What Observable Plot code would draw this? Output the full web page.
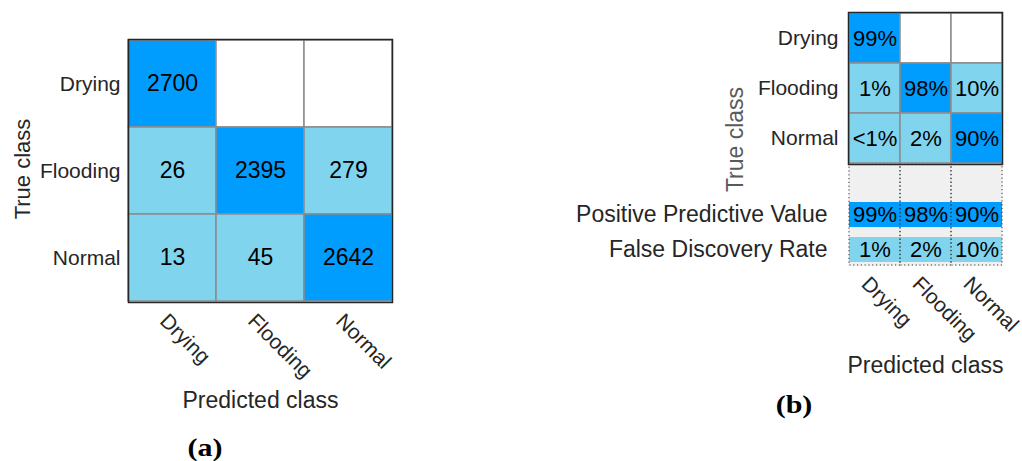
<!DOCTYPE html>
<html><head><meta charset="utf-8">
<script src="https://cdn.jsdelivr.net/npm/d3@7"></script>
<script src="https://cdn.jsdelivr.net/npm/@observablehq/plot@0.6"></script>
<style>
body{margin:0;background:#fff;}
#root{position:relative;width:1022px;height:461px;overflow:hidden;font-family:"Liberation Sans",Arial,sans-serif;}
#root svg{position:absolute;left:0;top:0;}
.tag{position:absolute;font-family:"Liberation Serif","Times New Roman",serif;font-weight:bold;font-size:25px;color:#000;transform:translate(-50%,-50%) scaleX(1.2);line-height:1;}
</style></head><body><div id="root"></div>
<script>
// ---- data ----
const classes = ["Drying", "Flooding", "Normal"];
const countsDrying = [2700, 0, 0];
const countsFlooding = [26, 2395, 279];
const countsNormal = [13, 45, 2642];
const pctDrying = ["99%", "", ""];
const pctFlooding = ["1%", "98%", "10%"];
const pctNormal = ["<1%", "2%", "90%"];
const summaryRows = ["Positive Predictive Value", "False Discovery Rate"];
const ppv = ["99%", "98%", "90%"];
const fdr = ["1%", "2%", "10%"];
const xLabel = "Predicted class";
const yLabel = "True class";

// ---- derived tables ----
const countRows = [countsDrying, countsFlooding, countsNormal];
const pctRows = [pctDrying, pctFlooding, pctNormal];
const cells = [];
countRows.forEach((row, i) => row.forEach((n, j) =>
  cells.push({truth: classes[i], pred: classes[j], n, pct: pctRows[i][j]})));
const summary = [];
[ppv, fdr].forEach((row, i) => row.forEach((v, j) =>
  summary.push({row: summaryRows[i], pred: classes[j], v, kind: i})));

const dark = "#009dff", light = "#80d4ee", ink = "#262626";
const fillOf = d => d.truth === d.pred ? dark : (d.n > 0 ? light : "#ffffff");
const font = "Liberation Sans, Arial, sans-serif";
const baseStyle = {background: "transparent", fontFamily: font, color: ink, overflow: "visible"};
const root = document.getElementById("root");

// ---- panel (a) ----
const plotA = Plot.plot({
  width: 430, height: 425,
  marginLeft: 128, marginTop: 39, marginRight: 38, marginBottom: 123,
  style: baseStyle,
  x: {type: "band", domain: classes, padding: 0},
  y: {type: "band", domain: classes, padding: 0},
  marks: [
    Plot.cell(cells, {x: "pred", y: "truth", fill: fillOf, stroke: "#8c8c8c", strokeWidth: 1.5}),
    Plot.text(cells.filter(d => d.n > 0), {x: "pred", y: "truth", text: d => String(d.n), fontSize: 23, fill: "#000"}),
    Plot.frame({stroke: ink, strokeWidth: 1.5}),
    Plot.axisY({tickSize: 0, tickPadding: 8, fontSize: 21, label: null}),
    Plot.axisX({tickSize: 0, tickPadding: 15, dx: -9, tickRotate: 45, fontSize: 21, label: null}),
    Plot.text([yLabel], {frameAnchor: "left", dx: -106, dy: -2, rotate: -90, textAnchor: "middle", lineAnchor: "middle", fontSize: 22, fill: ink}),
    Plot.text([xLabel], {frameAnchor: "bottom", dy: 98, textAnchor: "middle", lineAnchor: "middle", fontSize: 23, fill: ink})
  ]
});
root.appendChild(plotA);

// ---- panel (b) summary rows ----
const plotBs = Plot.plot({
  width: 1022, height: 461,
  marginLeft: 848, marginTop: 164, marginRight: 20, marginBottom: 196,
  style: baseStyle,
  x: {type: "band", domain: classes, padding: 0},
  y: {type: "band", domain: summaryRows, paddingInner: 0.28, paddingOuter: 0, insetTop: 38, insetBottom: 2},
  marks: [
    Plot.frame({fill: "#f0f0f0", stroke: null}),
    Plot.cell(summary, {x: "pred", y: "row", fill: d => d.kind === 0 ? dark : light}),
    Plot.cell(classes, {x: d => d, fill: "none", stroke: "#333", strokeWidth: 1, strokeDasharray: "1.2,2.6"}),
    Plot.text(summary, {x: "pred", y: "row", text: "v", fontSize: 22, fill: "#000"}),
    Plot.axisY({tickSize: 0, tickPadding: 21, fontSize: 23, label: null}),
    Plot.axisX({tickSize: 0, tickPadding: 15, dx: -10, tickRotate: 45, fontSize: 21, label: null}),
    Plot.text([xLabel], {frameAnchor: "bottom", dy: 100, textAnchor: "middle", lineAnchor: "middle", fontSize: 23, fill: ink})
  ]
});
root.appendChild(plotBs);

// ---- panel (b) normalized matrix ----
const plotBm = Plot.plot({
  width: 1022, height: 461,
  marginLeft: 848, marginTop: 12, marginRight: 20, marginBottom: 297,
  style: baseStyle,
  x: {type: "band", domain: classes, padding: 0, axis: null},
  y: {type: "band", domain: classes, padding: 0},
  marks: [
    Plot.cell(cells, {x: "pred", y: "truth", fill: fillOf, stroke: "#8c8c8c", strokeWidth: 1.5}),
    Plot.text(cells, {x: "pred", y: "truth", text: "pct", fontSize: 22, fill: "#000"}),
    Plot.frame({stroke: ink, strokeWidth: 1.5}),
    Plot.axisY({tickSize: 0, tickPadding: 10, fontSize: 21, label: null}),
    Plot.text([yLabel], {frameAnchor: "left", dx: -113, dy: 51, rotate: -90, textAnchor: "middle", lineAnchor: "middle", fontSize: 23, fill: "#5a5a5a"})
  ]
});
root.appendChild(plotBm);

// ---- panel tags ----
for (const [t, x, y] of [["(a)", 205, 447], ["(b)", 794, 404]]) {
  const el = document.createElement("div");
  el.className = "tag";
  el.textContent = t;
  el.style.left = x + "px";
  el.style.top = y + "px";
  root.appendChild(el);
}
</script>
</body></html>
